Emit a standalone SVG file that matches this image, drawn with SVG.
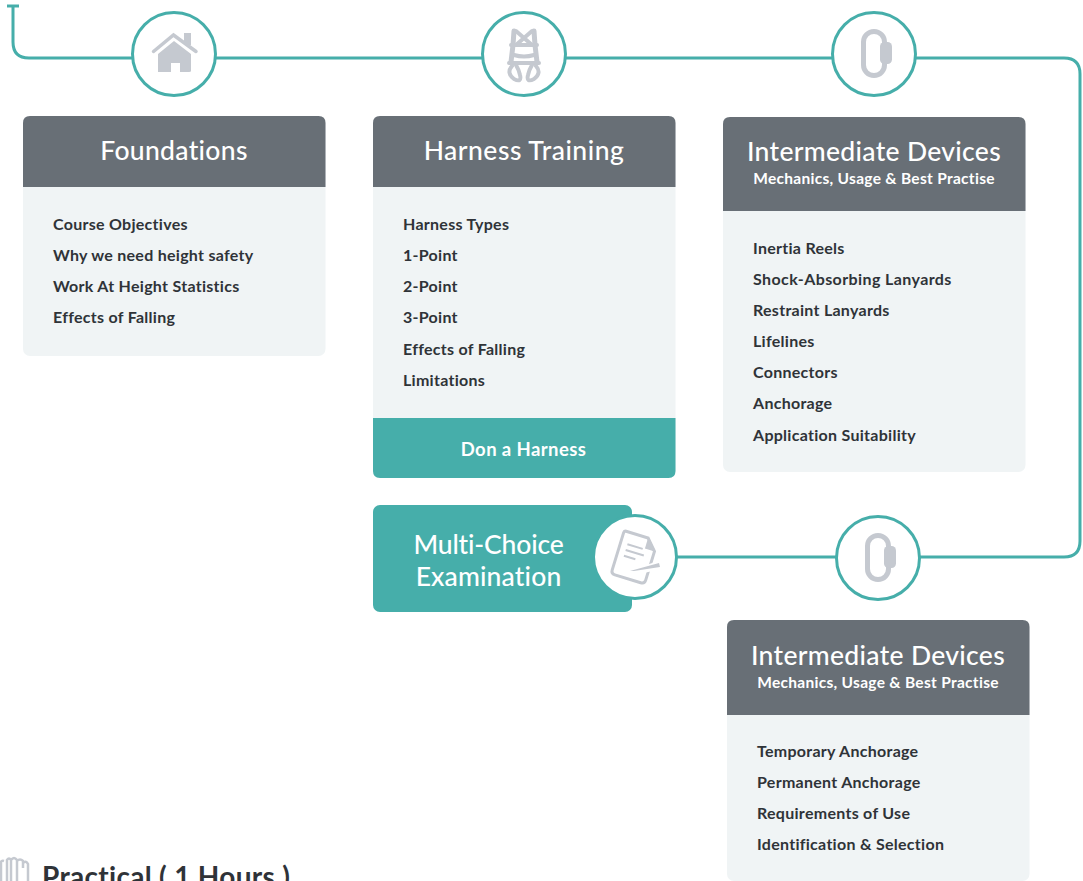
<svg xmlns="http://www.w3.org/2000/svg" width="1083" height="881" viewBox="0 0 1083 881">
<style>
text{font-family:Lato,"Open Sans","Liberation Sans",sans-serif}
.h{fill:#fff;font-size:26.500px;font-weight:500;text-anchor:middle;letter-spacing:.32px}
.s{fill:#fff;font-size:15.500px;font-weight:700;text-anchor:middle;letter-spacing:.3px}
.i{fill:#2f3338;font-size:16px;font-weight:700;letter-spacing:.28px}
.hd{fill:#686f76}
.bd{fill:#f0f4f5}
.t{fill:#46aeaa}
.c{fill:#fff;stroke:#46aeaa;stroke-width:3}
.l{fill:none;stroke:#46aeaa;stroke-width:3}
.g{fill:#c5c9d0}
.gl{fill:none;stroke:#c5c9d0}
</style>
<defs>
<g id="carabiner"><rect x="-10.500" y="-22.500" width="21" height="44" rx="10.500" fill="none" stroke="#c5c9d0" stroke-width="5"/><rect x="6" y="-12" width="12" height="22" rx="4.500" class="g"/></g>
</defs>
<g id="connectors">
<path class="l" d="M13 6V42Q13 58 29 58H1064Q1080 58 1080 74V541Q1080 557 1064 557H660"/>
<path class="l" d="M7 6H19"/>
</g>
<g id="node-foundations-icon">
<circle class="c" cx="174" cy="54" r="41.500"/>
<path class="g" d="M158 72V54L174 41L191 54V71Q191 72 189 72H180V63H171V72Z"/>
<path class="gl" stroke-width="3.500" stroke-linecap="round" d="M153.500 51.500L173.500 35L196 51.500"/>
<rect class="g" x="184" y="33" width="7" height="12"/>
</g>
<g id="node-harness-icon">
<circle class="c" cx="524" cy="54" r="41.500"/>
<g class="gl" stroke-width="4" stroke-linejoin="round" stroke-linecap="round">
<path d="M514 31L513 45L511 62M534 31L535 45L537 62" stroke-width="5"/>
<path d="M516 31L532 45M532 31L516 45"/>
<path d="M511 45H537M514 55Q524 58 534 55M509 63H539"/>
<path d="M512 66Q506 73 514 79Q522 83 520 75Q519 70 516 65M536 66Q542 73 534 79Q526 83 528 75Q529 70 532 65"/>
</g>
</g>
<g id="node-device-icon-1">
<circle class="c" cx="874" cy="54" r="41.500"/>
<use href="#carabiner" x="874" y="54"/>
</g>
<g id="node-foundations">
<rect class="bd" x="23" y="116" width="302.500" height="240" rx="7"/>
<path class="hd" d="M23 187V123Q23 116 30 116H318.500Q325.500 116 325.500 123V187Z"/>
<text class="h" x="174" y="159.500">Foundations</text>
<text class="i" x="53" y="230">Course Objectives</text>
<text class="i" x="53" y="261">Why we need height safety</text>
<text class="i" x="53" y="292">Work At Height Statistics</text>
<text class="i" x="53" y="323">Effects of Falling</text>
</g>
<g id="node-harness">
<rect class="bd" x="373" y="116" width="302.500" height="362" rx="7"/>
<path class="hd" d="M373 187V123Q373 116 380 116H668.500Q675.500 116 675.500 123V187Z"/>
<path class="t" d="M373 418H675.500V471Q675.500 478 668.500 478H380Q373 478 373 471Z"/>
<text class="h" x="524" y="159.500" style="letter-spacing:.5px">Harness Training</text>
<text class="i" x="403" y="230">Harness Types</text>
<text class="i" x="403" y="261">1-Point</text>
<text class="i" x="403" y="292">2-Point</text>
<text class="i" x="403" y="323">3-Point</text>
<text class="i" x="403" y="355">Effects of Falling</text>
<text class="i" x="403" y="386">Limitations</text>
<text x="523.500" y="456" text-anchor="middle" fill="#fff" font-size="18.500" font-weight="700" letter-spacing=".4">Don a Harness</text>
</g>
<g id="node-intermediate-1">
<rect class="bd" x="723" y="117" width="302.500" height="355" rx="7"/>
<path class="hd" d="M723 211V124Q723 117 730 117H1018.500Q1025.500 117 1025.500 124V211Z"/>
<text class="h" x="874" y="160.500">Intermediate Devices</text>
<text class="s" x="874" y="184">Mechanics, Usage &amp; Best Practise</text>
<text class="i" x="753" y="254">Inertia Reels</text>
<text class="i" x="753" y="285" style="letter-spacing:.4px">Shock-Absorbing Lanyards</text>
<text class="i" x="753" y="316">Restraint Lanyards</text>
<text class="i" x="753" y="347">Lifelines</text>
<text class="i" x="753" y="378">Connectors</text>
<text class="i" x="753" y="409">Anchorage</text>
<text class="i" x="753" y="441">Application Suitability</text>
</g>
<g id="node-exam">
<rect class="t" x="373" y="505" width="259" height="107" rx="7"/>
<text class="h" x="488.500" y="554" style="letter-spacing:-.15px">Multi-Choice</text>
<text class="h" x="488.500" y="586" style="letter-spacing:.15px">Examination</text>
<circle class="c" cx="635" cy="557" r="41.500"/>
<g transform="rotate(17 635 557)">
<path d="M619 535H642L652 546V576Q652 580 648 580H621Q617 580 617 576V537Q617 535 619 535Z" fill="none" stroke="#c5c9d0" stroke-width="3"/>
<path class="g" d="M642 534L653 546H642Z"/>
<path class="gl" stroke-width="2" d="M624 547H640M624 553H643M624 559H636"/>
</g>
<path fill="#fff" d="M626 572L661 560L662 569L630 576Z"/>
<path class="g" d="M630 571L659 563L660 567L634 571Z"/>
</g>
<g id="node-device-icon-2">
<circle class="c" cx="878" cy="558" r="41.500"/>
<use href="#carabiner" x="878" y="558"/>
</g>
<g id="node-intermediate-2">
<rect class="bd" x="727" y="620" width="302.500" height="261" rx="7"/>
<path class="hd" d="M727 715V627Q727 620 734 620H1022.500Q1029.500 620 1029.500 627V715Z"/>
<text class="h" x="878" y="664.500">Intermediate Devices</text>
<text class="s" x="878" y="688">Mechanics, Usage &amp; Best Practise</text>
<text class="i" x="757" y="757">Temporary Anchorage</text>
<text class="i" x="757" y="788">Permanent Anchorage</text>
<text class="i" x="757" y="819">Requirements of Use</text>
<text class="i" x="757" y="850">Identification &amp; Selection</text>
</g>
<g id="node-practical">
<path class="gl" stroke-width="2.500" d="M1 881V863Q1 860 4 861M7 881V860Q9 857 11 860V881M11 860Q14 856 17 860V881M17 861Q20 858 23 861V868M23 863Q26 860 28 864V881"/>
<text x="42" y="887" fill="#2f3338" font-size="28" font-weight="700" letter-spacing=".3">Practical ( 1 Hours )</text>
</g>
</svg>
